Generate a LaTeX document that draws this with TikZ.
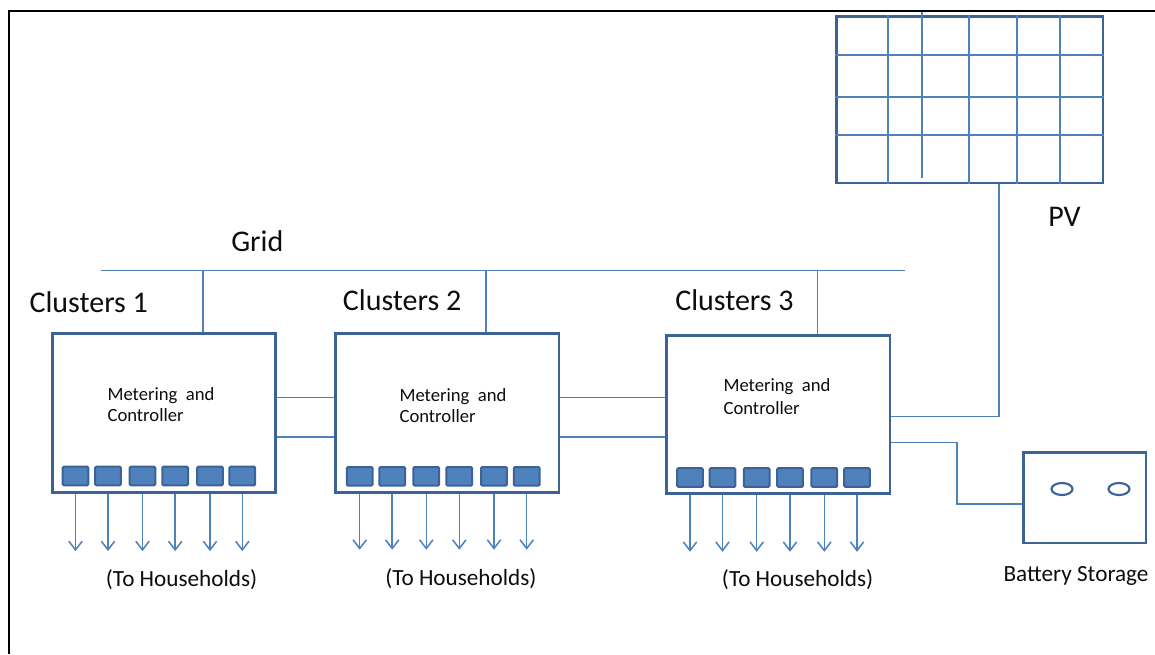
\documentclass[tikz,border=0pt]{standalone}
\usepackage{fontspec}
\setmainfont{Carlito}
\usetikzlibrary{arrows.meta}
\definecolor{lineblue}{HTML}{4F81BD}
\definecolor{darkblue}{HTML}{3B6395}
\definecolor{txt}{HTML}{0D0D0D}
\begin{document}
\begin{tikzpicture}[x=0.75pt,y=-0.75pt,
  cbox/.style={draw=darkblue, line width=2.2pt, inner sep=0pt, rectangle},
  port/.style={draw=darkblue, fill=lineblue, line width=1.5pt, inner sep=0pt, minimum width=19.3pt, minimum height=13.9pt, rounded corners=0.8pt},
  wire/.style={draw=lineblue, line width=1.15pt},
  pvgrid/.style={draw=lineblue, line width=1.4pt},
  arr/.style={draw=lineblue, line width=1.15pt, -{Straight Barb[width=10pt,length=6.5pt]}},
  biglabel/.style={font=\fontsize{22.5}{26}\selectfont, text=txt, anchor=base west, inner sep=0pt},
  boxtext/.style={font=\fontsize{14}{17}\selectfont, text=txt, anchor=base west, inner sep=0pt},
  midlabel/.style={font=\fontsize{17.4}{20}\selectfont, text=txt, anchor=base west, inner sep=0pt},
]
\useasboundingbox (0,0) rectangle (1155,654);
% frame
\coordinate (fb) at (9,654);
\coordinate (ftl) at (9,11);
\coordinate (fr) at (1155,11);
\draw[black, line width=1.5pt] (fb) -- (ftl) -- (fr);

% cluster boxes
\node[cbox, minimum width=167.3pt, minimum height=119.5pt] (c1) at (164.2,413) {};
\node[cbox, minimum width=167.5pt, minimum height=119.2pt] (c2) at (447.3,412.8) {};
\node[cbox, minimum width=167.5pt, minimum height=118.7pt] (c3) at (778.3,414.2) {};
% PV panel
\node[cbox, minimum width=200.2pt, minimum height=125.2pt] (pv) at (969.5,99.5) {};
% battery
\node[cbox, minimum width=92.2pt, minimum height=68.2pt] (bat) at (1084.5,497.5) {};
\draw[darkblue, line width=1.6pt] (1062,489) ellipse [x radius=10.5, y radius=6];
\draw[darkblue, line width=1.6pt] (1119,489) ellipse [x radius=10.5, y radius=6];

% PV grid
\foreach \gx in {888,969,1017,1060}
  \draw[pvgrid] (pv.north -| \gx,0) -- (pv.south -| \gx,0);
\draw[pvgrid] (922,11.5) -- (922,178);
\foreach \gy in {55,97,135}
  \draw[pvgrid] (pv.west |- 0,\gy) -- (pv.east |- 0,\gy);

% grid bus
\coordinate (g0) at (101,270.7);
\coordinate (g1) at (905,270.7);
\draw[wire] (g0) -- (g1);
\coordinate (t1) at (203,270.7);
\coordinate (t2) at (486,270.7);
\coordinate (t3) at (817.7,270.7);
\draw[wire] (t1) -- (t1 |- c1.north);
\draw[wire] (t2) -- (t2 |- c2.north);
\draw[wire] (t3) -- (t3 |- c3.north);

% inter-cluster links
\coordinate (ya) at (0,397.5);
\coordinate (yb) at (0,437);
\draw[wire] (c1.east |- ya) -- (c2.west |- ya);
\draw[wire] (c1.east |- yb) -- (c2.west |- yb);
\draw[wire] (c2.east |- ya) -- (c3.west |- ya);
\draw[wire] (c2.east |- yb) -- (c3.west |- yb);

% PV and battery links
\coordinate (pvx) at (999,0);
\coordinate (ypv) at (0,416.5);
\coordinate (ybt) at (0,442.7);
\coordinate (bx) at (957,0);
\coordinate (yb2) at (0,504);
\draw[wire] (pv.south -| pvx) |- (c3.east |- ypv);
\draw[wire] (c3.east |- ybt) -| (bx |- yb2) -- (bat.west |- yb2);

% ports and arrows
\foreach \i/\px in {1/75.5,2/108,3/142.5,4/175.2,5/210,6/242.3} {
  \node[port] (s1\i) at (\px,476) {};
  \draw[arr] (s1\i.south |- c1.south) -- ++(0,57);
}
\foreach \i/\px in {1/359.7,2/392.2,3/426.3,4/459.3,5/494,6/526.7} {
  \node[port] (s2\i) at (\px,476.3) {};
  \draw[arr] (s2\i.south |- c2.south) -- ++(0,56);
}
\foreach \i/\px in {1/690,2/722.5,3/756.7,4/790,5/824.3,6/857} {
  \node[port] (s3\i) at (\px,477.5) {};
  \draw[arr] (s3\i.south |- c3.south) -- ++(0,57);
}

% labels
\node[biglabel] (lg) at (231,251.7) {Grid};
\node[biglabel] (lc1) at (29.3,312.7) {Clusters 1};
\node[biglabel] (lc2) at (342.7,310.7) {Clusters 2};
\node[biglabel] (lc3) at (675,310.7) {Clusters 3};
\node[biglabel] (lpv) at (1048,226.7) {PV};

\node[boxtext] (m1a) at (107.3,400) {Metering\ \ and};
\node[boxtext] (m1b) at (107.3,421.7) {Controller};
\node[boxtext] (m2a) at (399.3,401.7) {Metering\ \ and};
\node[boxtext] (m2b) at (399.3,422.7) {Controller};
\node[boxtext] (m3a) at (723.3,391.7) {Metering\ \ and};
\node[boxtext] (m3b) at (723.3,414) {Controller};

\node[midlabel] (h1) at (105.7,586.7) {(To Households)};
\node[midlabel] (h2) at (385,585) {(To Households)};
\node[midlabel] (h3) at (721.7,586) {(To Households)};
\node[midlabel] (lbat) at (1003.3,581) {Battery Storage};
\end{tikzpicture}
\end{document}
